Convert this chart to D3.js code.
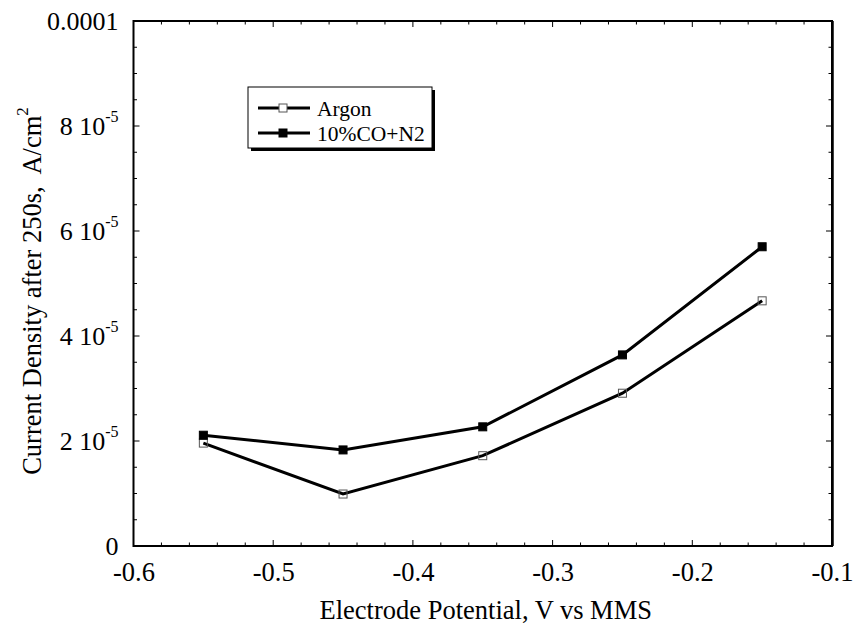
<!DOCTYPE html>
<html>
<head>
<meta charset="utf-8">
<script src="https://cdn.jsdelivr.net/npm/d3@7"></script>
<style>
  body { margin: 0; background: #fff; }
  svg { display: block; }
</style>
</head>
<body>
<div id="chart"></div>
<script>
// data
var potentials = [-0.55, -0.45, -0.35, -0.25, -0.15];
var argon = [1.96e-5, 0.99e-5, 1.72e-5, 2.91e-5, 4.67e-5];
var coN2 = [2.11e-5, 1.83e-5, 2.27e-5, 3.64e-5, 5.70e-5];
var seriesNames = ["Argon", "10%CO+N2"];
var xTicks = [-0.6, -0.5, -0.4, -0.3, -0.2, -0.1];
var yTicks = [0, 2e-5, 4e-5, 6e-5, 8e-5, 1e-4];

var width = 854, height = 626;
var pLeft = 133.5, pRight = 832, pTop = 21, pBottom = 546;
var serif = "'Liberation Serif', 'Times New Roman', serif";

var svg = d3.select("#chart").append("svg")
    .attr("width", width)
    .attr("height", height)
    .attr("font-family", serif);

var x = d3.scaleLinear().domain([-0.6, -0.1]).range([pLeft, pRight]);
var y = d3.scaleLinear().domain([0, 1e-4]).range([pBottom, pTop]);

var minorX = d3.range(0, 26).map(function(i) { return -0.6 + i * 0.02; });
var minorY = d3.range(0, 21).map(function(i) { return i * 0.5e-5; });

// ticks on all four sides, pointing in
var ticks = svg.append("g").attr("stroke", "#000").attr("stroke-width", 1);
minorX.forEach(function(v, i) {
  var len = (i % 5 === 0) ? 6 : 3.5;
  ticks.append("line").attr("x1", x(v)).attr("x2", x(v)).attr("y1", pBottom).attr("y2", pBottom - len);
  ticks.append("line").attr("x1", x(v)).attr("x2", x(v)).attr("y1", pTop).attr("y2", pTop + len);
});
minorY.forEach(function(v, i) {
  var len = (i % 4 === 0) ? 6 : 3.5;
  ticks.append("line").attr("x1", pLeft).attr("x2", pLeft + len).attr("y1", y(v)).attr("y2", y(v));
  ticks.append("line").attr("x1", pRight).attr("x2", pRight - len).attr("y1", y(v)).attr("y2", y(v));
});

// frame
svg.append("rect")
    .attr("x", pLeft).attr("y", pTop)
    .attr("width", pRight - pLeft).attr("height", pBottom - pTop)
    .attr("fill", "none").attr("stroke", "#000").attr("stroke-width", 2);
svg.append("line")
    .attr("x1", pRight + 1).attr("x2", pRight + 1).attr("y1", pTop).attr("y2", pBottom)
    .attr("stroke", "#000").attr("stroke-width", 1.5);

// x axis labels
var xAxis = d3.axisBottom(x).tickValues(xTicks).tickSize(0).tickPadding(16)
    .tickFormat(function(d) { return d3.format(".1f")(d).replace("\u2212", "-"); });
var gx = svg.append("g").attr("transform", "translate(0," + pBottom + ")").call(xAxis);
gx.attr("font-family", serif).attr("font-size", 26.5);
gx.select(".domain").remove();
gx.selectAll("text").attr("fill", "#000");

// y axis labels
var gy = svg.append("g");
yTicks.forEach(function(v) {
  var t = gy.append("text")
      .attr("x", pLeft - 15)
      .attr("y", y(v))
      .attr("dy", "0.35em")
      .attr("text-anchor", "end")
      .attr("font-size", 26);
  if (v === 0) t.text("0");
  else if (v === 1e-4) t.text("0.0001");
  else {
    t.append("tspan").text(Math.round(v / 1e-5) + " 10");
    t.append("tspan").attr("font-size", 16).attr("dy", "-0.8em").text("-5");
  }
});

// axis titles
svg.append("text")
    .attr("x", (pLeft + pRight) / 2 + 3)
    .attr("y", 619)
    .attr("text-anchor", "middle")
    .attr("font-size", 26.5)
    .text("Electrode Potential, V vs MMS");

var yt = svg.append("text")
    .attr("transform", "translate(41,291) rotate(-90)")
    .attr("text-anchor", "middle")
    .attr("font-size", 26.5)
    .attr("xml:space", "preserve");
yt.append("tspan").text("Current Density after 250s,  A/cm");
yt.append("tspan").attr("font-size", 17).attr("dy", "-0.75em").text("2");

// series
var series = [argon, coN2];
var line = d3.line()
    .x(function(d, i) { return x(potentials[i]); })
    .y(function(d) { return y(d); });

series.forEach(function(vals, s) {
  svg.append("path")
      .datum(vals)
      .attr("d", line)
      .attr("fill", "none")
      .attr("stroke", "#000")
      .attr("stroke-width", 3);
  svg.selectAll(".m" + s)
      .data(vals)
      .enter().append("rect")
      .attr("class", "m" + s)
      .attr("x", function(d, i) { return x(potentials[i]) - 4; })
      .attr("y", function(d) { return y(d) - 4; })
      .attr("width", 8).attr("height", 8)
      .attr("fill", s === 0 ? "none" : "#000")
      .attr("stroke", s === 0 ? "#555" : "#000")
      .attr("stroke-width", 1);
});

// legend
var lg = svg.append("g").attr("transform", "translate(248,87)");
lg.append("rect").attr("x", 3).attr("y", 3).attr("width", 184).attr("height", 61).attr("fill", "#000");
lg.append("rect").attr("x", 0).attr("y", 0).attr("width", 184).attr("height", 61)
    .attr("fill", "#fff").attr("stroke", "#000").attr("stroke-width", 1);
seriesNames.forEach(function(name, s) {
  var ry = 21 + s * 25;
  lg.append("line").attr("x1", 10).attr("x2", 62).attr("y1", ry).attr("y2", ry)
      .attr("stroke", "#000").attr("stroke-width", 3);
  lg.append("rect").attr("x", 31).attr("y", ry - 4).attr("width", 8).attr("height", 8)
      .attr("fill", s === 0 ? "#fff" : "#000")
      .attr("stroke", s === 0 ? "#555" : "#000");
  lg.append("text").attr("x", 69).attr("y", ry).attr("dy", "0.35em")
      .attr("font-size", 21.5).text(name);
});
</script>
</body>
</html>
